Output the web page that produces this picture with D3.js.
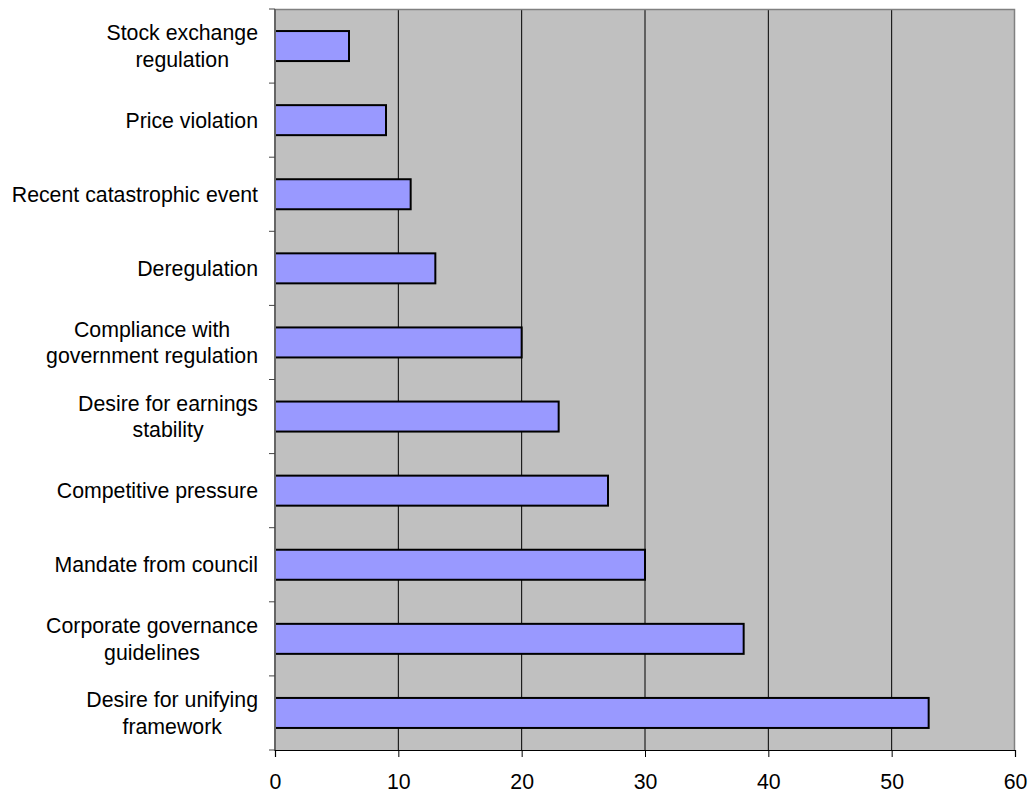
<!DOCTYPE html>
<html>
<head>
<meta charset="utf-8">
<script src="https://cdn.jsdelivr.net/npm/d3@7"></script>
<style>
  body { margin: 0; background: #fff; }
  text { font-family: Arial, "Liberation Sans", sans-serif; fill: #000; }
</style>
</head>
<body>
<div id="chart"></div>
<script>
// categories, top to bottom (line breaks as in the chart)
var categories = [
  "Stock exchange\nregulation",
  "Price violation",
  "Recent catastrophic event",
  "Deregulation",
  "Compliance with\ngovernment regulation",
  "Desire for earnings\nstability",
  "Competitive pressure",
  "Mandate from council",
  "Corporate governance\nguidelines",
  "Desire for unifying\nframework"
];
var values = [6, 9, 11, 13, 20, 23, 27, 30, 38, 53];
var xTicks = [0, 10, 20, 30, 40, 50, 60];

var svgWidth = 1029;
var svgHeight = 793;
var margin = { top: 9, right: 14, bottom: 43, left: 275 };
var width = svgWidth - margin.left - margin.right;
var height = svgHeight - margin.top - margin.bottom;

var svg = d3.select("#chart").append("svg")
  .attr("width", svgWidth)
  .attr("height", svgHeight);

var chartGroup = svg.append("g")
  .attr("transform", `translate(${margin.left}, ${margin.top})`);

var xScale = d3.scaleLinear().domain([0, 60]).range([0, width]);
var yScale = d3.scaleBand().domain(categories).range([0, height])
  .paddingInner(0.595).paddingOuter(0.2975);
var bandStep = yScale.step();

// plot background
chartGroup.append("rect")
  .attr("width", width)
  .attr("height", height)
  .attr("fill", "#c0c0c0");

// gridlines
chartGroup.selectAll(".grid").data(xTicks.slice(1, -1))
  .enter().append("line")
  .attr("x1", d => xScale(d)).attr("x2", d => xScale(d))
  .attr("y1", 0).attr("y2", height)
  .attr("stroke", "#000").attr("stroke-width", 1);

// top and right border
chartGroup.append("path")
  .attr("d", `M0,0.5H${width - 0.5}V${height}`)
  .attr("fill", "none")
  .attr("stroke", "#808080")
  .attr("stroke-width", 1.5);

// bars
chartGroup.selectAll(".bar").data(values)
  .enter().append("rect")
  .attr("x", xScale(0))
  .attr("y", (d, i) => yScale(categories[i]))
  .attr("width", d => xScale(d) - xScale(0))
  .attr("height", yScale.bandwidth())
  .attr("fill", "#9999ff")
  .attr("stroke", "#000")
  .attr("stroke-width", 2);

// left axis line and ticks between categories
chartGroup.append("line")
  .attr("x1", 0).attr("x2", 0)
  .attr("y1", 0).attr("y2", height + 1)
  .attr("stroke", "#666").attr("stroke-width", 2);

d3.range(categories.length + 1).forEach(function(i) {
  chartGroup.append("line")
    .attr("x1", -6).attr("x2", 0)
    .attr("y1", i * bandStep).attr("y2", i * bandStep)
    .attr("stroke", "#444").attr("stroke-width", 1);
});

// bottom axis
var bottomAxis = d3.axisBottom(xScale).tickValues(xTicks).tickSize(7).tickPadding(17);
var xAxis = chartGroup.append("g")
  .attr("transform", `translate(0, ${height})`)
  .call(bottomAxis);
xAxis.select(".domain").attr("stroke", "#000").attr("stroke-width", 1.2);
xAxis.selectAll(".tick line").attr("stroke", "#000");
xAxis.selectAll(".tick text")
  .attr("font-size", "21.3px")
  .attr("font-family", "Arial, 'Liberation Sans', sans-serif")
  .attr("dy", "0.71em");

// category labels
var labelRight = -17;
var lineHeight = 26.5;
categories.forEach(function(c) {
  var lines = c.split("\n");
  var cy = yScale(c) + yScale.bandwidth() / 2;
  var t = chartGroup.append("text")
    .attr("font-size", "21.3px")
    .attr("text-anchor", "middle");
  lines.forEach(function(l, j) {
    t.append("tspan")
      .attr("y", cy + (j - (lines.length - 1) / 2) * lineHeight)
      .attr("dy", "0.36em")
      .text(l);
  });
  var maxW = 0;
  t.selectAll("tspan").each(function() {
    maxW = Math.max(maxW, this.getComputedTextLength());
  });
  t.selectAll("tspan").attr("x", labelRight - maxW / 2);
});
</script>
</body>
</html>
